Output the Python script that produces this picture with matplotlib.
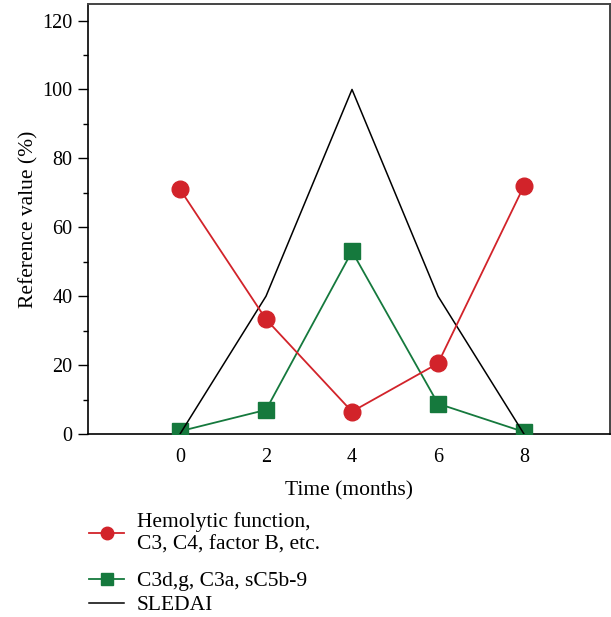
import numpy as np
import matplotlib.pyplot as plt
from matplotlib.ticker import MultipleLocator

plt.rcParams['font.family'] = ['Liberation Serif', 'DejaVu Serif']

months = [0, 2, 4, 6, 8]
hemolytic = [71, 33.3, 6.5, 20.5, 72]
c3d = [0.8, 7, 53, 8.8, 0.6]
sledai = [0, 40, 100, 40, 0]

red = '#d2232a'
green = '#15793d'

fig = plt.figure(figsize=(6.11, 6.17), dpi=100)
ax = fig.add_axes([88/611, 1 - 434/617, 522/611, 430/617])

ax.plot(months, c3d, '-s', color=green, lw=1.3, ms=11.5, mec=green,
        label='C3d,g, C3a, sC5b-9', zorder=3)
ax.plot(months, sledai, '-', color='black', lw=1.1, label='SLEDAI', zorder=4)
ax.plot(months, hemolytic, '-o', color=red, lw=1.3, ms=12, mec=red,
        label='Hemolytic function,\nC3, C4, factor B, etc.', zorder=5)

ax.set_xlim(-2.14, 10)
ax.set_ylim(0, 124.8)
ax.set_xticks(months)
ax.yaxis.set_major_locator(MultipleLocator(20))
ax.yaxis.set_minor_locator(MultipleLocator(10))
ax.tick_params(axis='x', length=0, pad=10, labelsize=14.5)
ax.tick_params(axis='y', which='major', length=7, width=1, labelsize=14.5, pad=4)
ax.tick_params(axis='y', which='minor', length=3.5, width=1)
for s in ['top', 'right']:
    ax.spines[s].set_color('#444444')
    ax.spines[s].set_linewidth(1.4)
for s in ['left', 'bottom']:
    ax.spines[s].set_linewidth(1.2)

ax.set_xlabel('Time (months)', fontsize=15.5, labelpad=10)
ax.set_ylabel('Reference value (%)', fontsize=15.5, labelpad=3)

h, l = ax.get_legend_handles_labels()
kw = dict(frameon=False, fontsize=15.5, handlelength=1.6,
          handletextpad=0.6, markerscale=0.75, borderpad=0.4)
fig.legend([h[2], h[0]], [l[2], l[0]], loc='upper left',
           bbox_to_anchor=(70/611, 1 - 493/617), labelspacing=0.8, **kw)
fig.legend([h[1]], [l[1]], loc='upper left',
           bbox_to_anchor=(70/611, 1 - 576/617), **kw)

fig.savefig('out.png', dpi=100)
